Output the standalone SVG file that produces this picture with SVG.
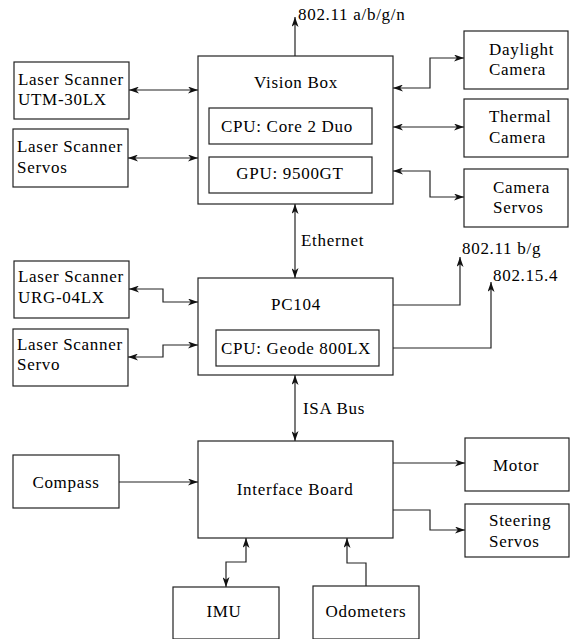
<svg xmlns="http://www.w3.org/2000/svg" width="570" height="639" viewBox="0 0 570 639">
<defs>
<style>
rect{fill:#fff;stroke:#222;stroke-width:1.2}
text{font-size:17px;letter-spacing:0.7px;fill:#000}
.m{text-anchor:middle}
#connectors path{fill:none;stroke:#222;stroke-width:1.2}
.b{marker-start:url(#ah);marker-end:url(#ah)}
.e{marker-end:url(#ah)}
</style>
<marker id="ah" viewBox="0 0 10 7" refX="10" refY="3.5" markerWidth="10" markerHeight="7" markerUnits="userSpaceOnUse" orient="auto-start-reverse">
<path d="M0,0 L10,3.5 L0,7 L2.8,3.5 z" fill="#111"/>
</marker>
</defs>
<rect x="0" y="0" width="570" height="639" style="stroke:none"/>
<g font-family="'Liberation Serif', 'Times New Roman', serif">
<g id="connectors">
<path class="e" d="M295,56 V17"/>
<path class="b" d="M129,90 H198"/>
<path class="b" d="M128,158 H198"/>
<path class="b" d="M393,88 H430 V58 H464"/>
<path class="b" d="M393,127 H464"/>
<path class="b" d="M393,171 H430 V197 H464"/>
<path class="b" d="M295,204 V278"/>
<path class="b" d="M129,289 H163 V302 H198"/>
<path class="b" d="M128,357 H163 V345 H198"/>
<path class="e" d="M393,305 H460 V257"/>
<path class="e" d="M393,348 H491 V282"/>
<path class="b" d="M295,375 V441"/>
<path class="e" d="M119,482 H198"/>
<path class="e" d="M393,463 H465"/>
<path class="e" d="M393,510 H430 V530 H465"/>
<path class="b" d="M246,538 V562 H226 V587"/>
<path class="e" d="M366,586 V563 H347 V538"/>
<text x="298" y="20">802.11 a/b/g/n</text>
<text x="301" y="246">Ethernet</text>
<text x="462" y="254">802.11 b/g</text>
<text x="493" y="281">802.15.4</text>
<text x="303" y="414">ISA Bus</text>
</g>
<g id="utm30lx"><rect x="14" y="62" width="115" height="57"/><text x="18" y="85">Laser Scanner</text><text x="18" y="105">UTM-30LX</text></g>
<g id="ls-servos"><rect x="13" y="129" width="115" height="58"/><text x="17" y="152">Laser Scanner</text><text x="17" y="173">Servos</text></g>
<g id="vision-box"><rect x="198" y="56" width="195" height="148"/><text class="m" x="296" y="88">Vision Box</text></g>
<g id="cpu-core2"><rect x="209" y="108" width="163" height="36"/><text class="m" x="287" y="132">CPU: Core 2 Duo</text></g>
<g id="gpu"><rect x="209" y="157" width="163" height="36"/><text class="m" x="290" y="179">GPU: 9500GT</text></g>
<g id="daylight"><rect x="464" y="31" width="104" height="58"/><text x="489" y="55">Daylight</text><text x="489" y="75">Camera</text></g>
<g id="thermal"><rect x="464" y="99" width="104" height="58"/><text x="489" y="122">Thermal</text><text x="489" y="143">Camera</text></g>
<g id="cam-servos"><rect x="464" y="169" width="104" height="58"/><text x="493" y="193">Camera</text><text x="493" y="213">Servos</text></g>
<g id="urg04lx"><rect x="14" y="261" width="115" height="57"/><text x="18" y="282">Laser Scanner</text><text x="18" y="303">URG-04LX</text></g>
<g id="ls-servo"><rect x="13" y="329" width="115" height="57"/><text x="17" y="350">Laser Scanner</text><text x="17" y="370">Servo</text></g>
<g id="pc104"><rect x="198" y="278" width="195" height="97"/><text class="m" x="296" y="310">PC104</text></g>
<g id="cpu-geode"><rect x="216" y="330" width="163" height="36"/><text class="m" x="296" y="354">CPU: Geode 800LX</text></g>
<g id="compass"><rect x="13" y="455" width="106" height="53"/><text class="m" x="66" y="488">Compass</text></g>
<g id="interface-board"><rect x="198" y="441" width="195" height="97"/><text class="m" x="295" y="495">Interface Board</text></g>
<g id="motor"><rect x="465" y="438" width="104" height="53"/><text x="493" y="471">Motor</text></g>
<g id="steering"><rect x="465" y="504" width="104" height="53"/><text x="489" y="526">Steering</text><text x="489" y="547">Servos</text></g>
<g id="imu"><rect x="173" y="587" width="106" height="52"/><text class="m" x="224" y="617">IMU</text></g>
<g id="odometers"><rect x="313" y="586" width="106" height="53"/><text class="m" x="366" y="617">Odometers</text></g>
</g>
</svg>
